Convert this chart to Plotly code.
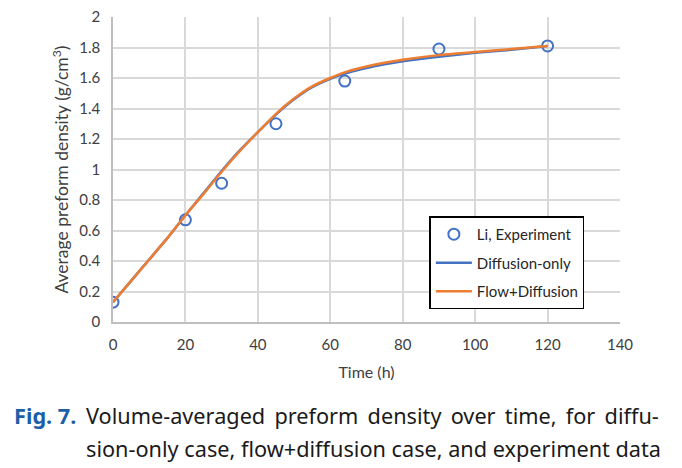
import plotly.graph_objects as go

# Experimental data (Li)
exp_time = [0, 20, 30, 45, 64, 90, 120]
exp_density = [0.13, 0.67, 0.91, 1.30, 1.58, 1.79, 1.81]

# Simulations
sim_time = [0, 5, 10, 15, 20, 25, 30, 35, 40, 45, 50, 55, 60, 65, 70, 75, 80, 90, 100, 110, 120]
flow_diffusion = [0.13, 0.27, 0.41, 0.55, 0.70, 0.84, 0.985, 1.12, 1.245, 1.365, 1.465, 1.545,
                  1.60, 1.645, 1.675, 1.70, 1.72, 1.75, 1.77, 1.79, 1.81]
diffusion_only = [0.13, 0.27, 0.41, 0.55, 0.70, 0.845, 0.99, 1.125, 1.245, 1.36, 1.46, 1.54,
                  1.595, 1.635, 1.665, 1.69, 1.71, 1.74, 1.765, 1.785, 1.81]

x_ticks = [0, 20, 40, 60, 80, 100, 120, 140]
y_ticks = [0, 0.2, 0.4, 0.6, 0.8, 1, 1.2, 1.4, 1.6, 1.8, 2]
y_ticklabels = ["0", "0.2", "0.4", "0.6", "0.8", "1", "1.2", "1.4", "1.6", "1.8", "2"]

BLUE = "#4472C4"
ORANGE = "#ED7D31"
GRID = "#D9D9D9"
TXT = "#404040"
FONT = "Lato, 'Open Sans', sans-serif"

fig = go.Figure()
fig.add_trace(go.Scatter(
    x=exp_time, y=exp_density, mode="markers", name="Li, Experiment",
    legendgroup="a",
    marker=dict(symbol="circle-open", size=11, color=BLUE, line=dict(width=2, color=BLUE)),
))
fig.add_trace(go.Scatter(
    x=sim_time, y=diffusion_only, mode="lines", name="Diffusion-only",
    legendgroup="b", line=dict(color=BLUE, width=2.5, shape="spline", smoothing=0.6),
))
fig.add_trace(go.Scatter(
    x=sim_time, y=flow_diffusion, mode="lines", name="Flow+Diffusion",
    legendgroup="c", line=dict(color=ORANGE, width=2.5, shape="spline", smoothing=0.6),
))

# The page adds an 8px body margin, so the figure is sized 674x460
fig.update_layout(
    width=674, height=460,
    margin=dict(l=105, r=62, t=9, b=146),
    paper_bgcolor="white", plot_bgcolor="white",
    font=dict(family=FONT, size=15, color=TXT),
    showlegend=True,
    legend=dict(
        x=0.624, y=0.346, xanchor="left", yanchor="top",
        bgcolor="white", bordercolor="black", borderwidth=1.5,
        font=dict(family=FONT, size=15, color="#262626"),
        traceorder="grouped", tracegroupgap=6,
        itemwidth=36,
    ),
    xaxis=dict(
        range=[0, 140], tickvals=x_ticks, ticktext=[str(v) for v in x_ticks],
        showgrid=True, gridcolor=GRID, gridwidth=1.5,
        showline=True, linecolor="#BFBFBF", linewidth=1.5,
        zeroline=False, ticks="", ticklabelstandoff=8, automargin=False,
        ticklabeloverflow="allow",
        tickfont=dict(family=FONT, size=15, color=TXT),
        title=dict(text="Time (h)", font=dict(family=FONT, size=16, color=TXT), standoff=15),
        fixedrange=True,
    ),
    yaxis=dict(
        range=[0, 2], tickvals=y_ticks, ticktext=y_ticklabels,
        showgrid=True, gridcolor=GRID, gridwidth=1.5,
        showline=True, linecolor="#BFBFBF", linewidth=1.5,
        zeroline=False, ticks="", ticklabelstandoff=8, automargin=False,
        ticklabeloverflow="allow",
        tickfont=dict(family=FONT, size=15, color=TXT),
        title=dict(text="Average preform density (g/cm<sup>3</sup>)",
                   font=dict(family=FONT, size=17.5, color=TXT), standoff=6),
        fixedrange=True,
    ),
)

CAP_FONT = "'Noto Sans', 'Open Sans', sans-serif"
TS = "\u2009"
fig.add_annotation(
    xref="paper", yref="paper", x=-0.199, y=-0.305, xanchor="left", yanchor="middle",
    text="<b>Fig. 7.</b>", showarrow=False,
    font=dict(family=CAP_FONT, size=21.7, color="#1B5FA8"),
)
fig.add_annotation(
    xref="paper", yref="paper", x=-0.057, y=-0.305, xanchor="left", yanchor="middle",
    text=("Volume-averaged" + TS + " preform" + TS + " density" + TS + " over" + TS
          + " time," + TS + " for" + TS + " diffu-"),
    showarrow=False, font=dict(family=CAP_FONT, size=21.7, color="#1A1A1A"),
)
fig.add_annotation(
    xref="paper", yref="paper", x=-0.057, y=-0.416, xanchor="left", yanchor="middle",
    text="sion-only case, flow+diffusion case, and experiment data",
    showarrow=False, font=dict(family=CAP_FONT, size=21.7, color="#1A1A1A"),
)

fig.write_html("out.html")
